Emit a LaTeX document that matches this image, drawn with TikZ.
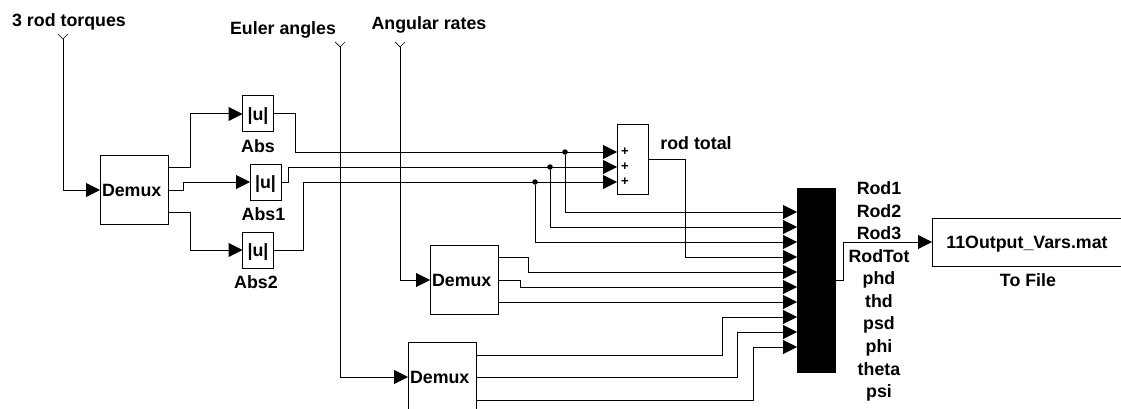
\documentclass[tikz,border=0pt]{standalone}
\usepackage{fontspec}
\setmainfont{Liberation Sans}
\usetikzlibrary{arrows.meta,positioning}
\tikzset{
	block/.style={draw,line width=1pt,inner sep=0pt,outer sep=0pt,text height=12.7pt,text depth=0pt,font=\bfseries\fontsize{17.8}{18}\selectfont},
	demux/.style={block,minimum width=68pt,minimum height=69pt,text width=64pt,align=left},
	absblock/.style={block,minimum width=31pt,minimum height=36pt},
	txt/.style={inner sep=0pt,outer sep=0pt,text height=12.7pt,text depth=0pt,font=\bfseries\fontsize{17.8}{18}\selectfont},
	wire/.style={line width=1pt},
	dot/.style={circle,fill=black,inner sep=0pt,minimum size=5.5pt},
	port/.style={inner sep=0pt,outer sep=0pt,font=\bfseries\fontsize{13}{14}\selectfont}
}
\begin{document}
\begin{tikzpicture}[x=1pt,y=-1pt,>={Triangle[length=14pt,width=14pt]}]
		\useasboundingbox (0,0) rectangle (1121,409);
		\clip (0,0) rectangle (1121,409);

		% inputs
		\coordinate (inRod) at (63,39);
		\coordinate (inEuler) at (340,47);
		\coordinate (inRate) at (400,47);
		\node[txt] (lRod) at (69,20) {3 rod torques};
		\node[txt] (lEuler) at (283,28) {Euler angles};
		\node[txt] (lRate) at (429,23) {Angular rates};

		% blocks
		\node[demux] (demA) at (134,190) {Demux};
		\node[demux] (demB) at (464,280) {Demux};
		\node[demux] (demC) at (442,377) {Demux};
		\node[absblock] (absA) at (258,114) {|u|};
		\node[absblock] (absB) at (265.5,182) {|u|};
		\node[absblock] (absC) at (258,250) {|u|};
		\node[txt] (lAbsA) [below=8pt of absA] {Abs};
		\node[txt] (lAbsB) [below=8pt of absB,xshift=-2pt] {Abs1};
		\node[txt] (lAbsC) [below=8pt of absC,xshift=-2pt] {Abs2};
		\node[block,minimum width=31pt,minimum height=69pt] (sum) at (632.5,159.5) {};
		\node[txt] (lSum) at (696,143) {rod total};
		\node[draw,fill=black,inner sep=0pt,outer sep=0pt,minimum width=38pt,minimum height=184pt] (mux) at (816,280) {};
		\node[block,minimum width=195pt,minimum height=48pt] (file) at (1029.5,242) {};
		\node[txt] (lFile) at (1027,242) {11Output\_Vars.mat};
		\node[txt] (lToFile) at (1028,280) {To File};

		% ports
		\node[port] (p1) at (625,152) {+};
		\node[port] (p2) at (625,167) {+};
		\node[port] (p3) at (625,182) {+};
		\coordinate (s1) at (617,152);
		\coordinate (s2) at (617,167);
		\coordinate (s3) at (617,182);
		\coordinate (m1) at (797,212);
		\coordinate (m2) at (797,227);
		\coordinate (m3) at (797,242);
		\coordinate (m4) at (797,257);
		\coordinate (m5) at (797,272);
		\coordinate (m6) at (797,287);
		\coordinate (m7) at (797,302);
		\coordinate (m8) at (797,317);
		\coordinate (m9) at (797,332);
		\coordinate (m10) at (797,347);
		\coordinate (aOut1) at (168,167);
		\coordinate (aOut2) at (168,190);
		\coordinate (aOut3) at (168,212);
		\coordinate (bOut1) at (498,257);
		\coordinate (bOut2) at (498,280);
		\coordinate (bOut3) at (498,302);
		\coordinate (cOut1) at (476,355);
		\coordinate (cOut2) at (476,377);
		\coordinate (cOut3) at (476,400);
		\node[dot] (j1) at (565,152) {};
		\node[dot] (j2) at (550,167) {};
		\node[dot] (j3) at (535,182) {};

		% mux labels
		\node[txt] (o1) at (879,188) {Rod1};
		\node[txt] (o2) at (879,211) {Rod2};
		\node[txt] (o3) at (879,233) {Rod3};
		\node[txt] (o4) at (879,256) {RodTot};
		\node[txt] (o5) at (879,278) {phd};
		\node[txt] (o6) at (879,301) {thd};
		\node[txt] (o7) at (879,323) {psd};
		\node[txt] (o8) at (879,346) {phi};
		\node[txt] (o9) at (879,369) {theta};
		\node[txt] (o10) at (879,391) {psi};

		% input forks
		\draw[line width=.7pt] ([shift={(-5,-5)}]inRod) -- (inRod) -- ([shift={(5,-5)}]inRod);
		\draw[line width=.7pt] ([shift={(-5,-5)}]inEuler) -- (inEuler) -- ([shift={(5,-5)}]inEuler);
		\draw[line width=.7pt] ([shift={(-5,-5)}]inRate) -- (inRate) -- ([shift={(5,-5)}]inRate);

		% wires
		\draw[wire,->] (inRod) |- (demA);
		\draw[wire,->] (inEuler) |- (demC);
		\draw[wire,->] (inRate) |- (demB);
		\draw[wire,->] (aOut1) -- ++(22,0) |- (absA);
		\draw[wire,->] (aOut2) -- ++(15,0) |- (absB);
		\draw[wire,->] (aOut3) -- ++(22,0) |- (absC);
		\draw[wire,->] (absA) -- ++(37,0) |- (s1);
		\draw[wire,->] (absB) -- ++(22.5,0) |- (s2);
		\draw[wire,->] (absC) -- ++(45,0) |- (s3);
		\draw[wire,->] (j1) |- (m1);
		\draw[wire,->] (j2) |- (m2);
		\draw[wire,->] (j3) |- (m3);
		\draw[wire,->] (sum) -- ++(52.5,0) |- (m4);
		\draw[wire,->] (bOut1) -- ++(30,0) |- (m5);
		\draw[wire,->] (bOut2) -- ++(22,0) |- (m6);
		\draw[wire,->] (bOut3) -- (m7);
		\draw[wire,->] (cOut1) -- ++(246,0) |- (m8);
		\draw[wire,->] (cOut2) -- ++(261,0) |- (m9);
		\draw[wire,->] (cOut3) -- ++(277,0) |- (m10);
		\draw[wire,->] (mux) -- ++(27,0) |- (file);
	\end{tikzpicture}
\end{document}
